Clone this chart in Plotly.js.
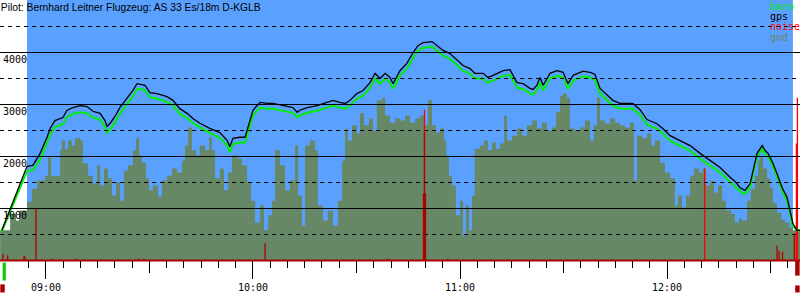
<!DOCTYPE html>
<html><head><meta charset="utf-8">
<script src="https://cdn.plot.ly/plotly-3.0.1.min.js"></script>
<style>html,body{margin:0;padding:0;background:#fff}#chart{width:800px;height:300px}</style>
</head><body><div id="chart"></div>
<script>
// time in minutes after midnight, altitude in metres
const chartTitle = 'Pilot: Bernhard Leitner Flugzeug: AS 33 Es/18m D-KGLB';
const hourTicks = [540, 600, 660, 720];
const hourLabels = ['09:00', '10:00', '11:00', '12:00'];
const halfHourTicks = [570, 630, 690, 750];
const altMajor = [1000, 2000, 3000, 4000];
const altMajorLabels = ['1000', '2000', '3000', '4000'];
const altMinor = [500, 1500, 2500, 3500, 4500];
const timeRange = [526.67, 758.55];
const altRange = [-759.6, 5009.6];
const skyTop = 5009.6;
const flightStart = 534.5, flightEnd = 756.5;

const gpsT = [527.2, 534.5, 536.2, 538.3, 540.3, 541.2, 542.6, 544.9, 546.1, 547.8,
  549.9, 551.9, 553.6, 555.7, 557.1, 557.7, 558.6, 560.0, 561.4, 563.5,
  565.2, 566.4, 567.2, 568.7, 570.1, 572.2, 575.1, 576.8, 578.8, 580.9,
  582.6, 584.6, 587.5, 590.4, 592.5, 593.3, 594.2, 596.2, 597.7, 598.3,
  599.1, 600.0, 602.0, 604.1, 605.8, 608.7, 611.6, 612.8, 613.6, 615.7,
  618.6, 621.4, 623.2, 625.2, 626.7, 628.1, 630.1, 631.9, 633.9, 635.4,
  636.8, 638.3, 639.7, 640.6, 642.6, 644.6, 646.4, 647.8, 649.3, 651.9,
  653.3, 655.1, 657.1, 659.1, 660.9, 662.9, 664.3, 666.7, 668.1, 669.6,
  672.5, 674.5, 676.5, 678.3, 680.3, 681.2, 682.3, 683.2, 684.1, 686.1,
  688.1, 689.9, 691.3, 692.8, 695.7, 697.7, 699.1, 700.6, 702.6, 704.3,
  706.4, 710.1, 712.2, 714.2, 717.1, 718.8, 720.9, 723.8, 726.7, 729.6,
  732.5, 735.4, 738.3, 739.7, 741.2, 742.6, 744.1, 744.9, 746.1, 747.6,
  748.4, 749.3, 750.7, 751.9, 753.4, 754.8, 755.7, 756.5, 757.7, 758.6];
const gpsAlt = [580, 1810, 1830, 2060, 2370, 2540, 2690, 2750, 2890, 2940,
  2980, 2960, 2870, 2830, 2690, 2580, 2640, 2770, 2940, 3120,
  3270, 3400, 3390, 3370, 3230, 3210, 3150, 3080, 2920, 2830,
  2730, 2640, 2540, 2460, 2310, 2190, 2350, 2370, 2370, 2500,
  2690, 2890, 3040, 3020, 3020, 2980, 2940, 2850, 2890, 2940,
  2980, 3040, 3080, 3040, 3020, 3080, 3210, 3270, 3420, 3600,
  3500, 3600, 3520, 3400, 3650, 3790, 4000, 4130, 4190, 4210,
  4130, 4040, 3980, 3850, 3750, 3690, 3600, 3600, 3520, 3560,
  3650, 3670, 3420, 3400, 3310, 3290, 3370, 3520, 3370, 3600,
  3650, 3620, 3400, 3560, 3640, 3620, 3580, 3310, 3190, 3080,
  3020, 3020, 2900, 2710, 2630, 2540, 2400, 2310, 2210, 2060,
  1920, 1790, 1600, 1520, 1400, 1350, 1480, 1730, 2060, 2210,
  2120, 2060, 1870, 1670, 1400, 1210, 920, 710, 580, 580];
const baroAlt = [560, 1720, 1740, 1940, 2260, 2420, 2570, 2620, 2760, 2820,
  2850, 2830, 2750, 2710, 2570, 2460, 2520, 2650, 2820, 3000,
  3160, 3300, 3300, 3270, 3140, 3110, 3050, 2980, 2820, 2740,
  2640, 2560, 2450, 2360, 2210, 2090, 2240, 2270, 2270, 2400,
  2590, 2790, 2940, 2920, 2920, 2880, 2840, 2750, 2790, 2840,
  2880, 2940, 2980, 2940, 2920, 2980, 3110, 3170, 3320, 3500,
  3400, 3500, 3420, 3300, 3550, 3690, 3900, 4030, 4090, 4110,
  4030, 3940, 3880, 3750, 3650, 3590, 3500, 3500, 3420, 3460,
  3550, 3570, 3320, 3300, 3210, 3190, 3270, 3420, 3270, 3500,
  3550, 3520, 3300, 3460, 3540, 3520, 3480, 3210, 3090, 2980,
  2920, 2920, 2800, 2610, 2530, 2440, 2300, 2210, 2110, 1960,
  1820, 1690, 1510, 1430, 1330, 1280, 1410, 1660, 1990, 2150,
  2060, 2000, 1810, 1610, 1340, 1150, 860, 660, 580, 580];

const gndT = [526.7, 529.6, 531.3, 532.2, 534.5, 535.9, 537.4, 539.7, 540.6, 541.5,
  542.6, 544.1, 544.6, 545.5, 546.4, 547.5, 548.4, 549.9, 550.7, 552.2,
  553.6, 554.8, 555.7, 556.8, 558.0, 559.1, 560.3, 561.5, 562.6, 563.8,
  565.2, 566.1, 567.0, 567.8, 569.0, 569.9, 571.0, 572.5, 573.6, 575.1,
  576.5, 578.0, 579.4, 580.3, 581.2, 582.3, 583.5, 584.6, 586.1, 587.3,
  588.1, 589.0, 590.4, 591.6, 592.8, 593.9, 595.4, 596.8, 598.3, 599.4,
  600.6, 602.0, 603.2, 604.4, 605.5, 606.4, 607.8, 609.3, 610.7, 612.2,
  613.1, 614.2, 615.1, 616.5, 618.0, 618.8, 620.3, 621.7, 623.2, 624.6,
  625.8, 626.7, 627.5, 628.7, 630.1, 631.0, 632.2, 633.6, 634.8, 635.9,
  637.4, 638.3, 639.7, 641.2, 642.6, 644.1, 645.5, 647.0, 648.4, 649.6,
  650.7, 651.9, 653.0, 654.2, 655.4, 656.0, 656.8, 657.7, 658.8, 660.0,
  660.9, 661.7, 662.6, 663.5, 664.3, 665.8, 667.0, 668.1, 669.3, 670.4,
  671.6, 672.8, 673.6, 675.1, 676.5, 678.0, 679.4, 680.9, 682.3, 683.8,
  685.2, 686.7, 687.8, 689.0, 689.9, 691.0, 691.9, 693.3, 694.8, 696.2,
  697.7, 698.8, 699.7, 700.6, 702.0, 703.5, 704.9, 706.4, 707.8, 709.3,
  710.4, 711.3, 712.8, 714.2, 715.4, 716.5, 718.0, 719.4, 720.9, 722.3,
  723.2, 724.3, 725.5, 726.7, 727.8, 729.3, 730.4, 731.3, 732.5, 733.6,
  734.8, 736.0, 737.1, 738.6, 739.7, 740.9, 741.7, 743.2, 744.3, 745.5,
  746.4, 747.0, 747.8, 749.0, 749.9, 750.7, 751.9, 753.1, 754.2, 755.4,
  756.5, 758.6];
const gndAlt = [580, 900, 770, 960, 1130, 1380, 1540, 1630, 1980, 1620,
  1630, 2120, 2310, 2150, 2310, 2210, 2350, 2310, 1870, 1630,
  1480, 1830, 1440, 1770, 1580, 1250, 1500, 1150, 1730, 1830,
  2120, 2350, 2020, 1880, 1580, 1350, 1440, 1230, 1540, 1630,
  1770, 1690, 1920, 2210, 2560, 2120, 2020, 2210, 2120, 2370,
  2120, 1580, 1770, 1350, 1690, 2020, 1960, 1830, 1500, 1150,
  730, 1060, 580, 870, 1150, 2120, 1830, 1350, 1540, 2210,
  1250, 670, 2210, 2310, 2120, 1060, 770, 960, 670, 1150,
  1920, 2540, 2310, 2600, 2440, 2830, 2600, 2730, 2500, 3080,
  3130, 2790, 2650, 2730, 2690, 2790, 2650, 2730, 2790, 2600,
  3080, 2600, 2460, 2540, 2310, 2020, 1630, 1440, 870, 1150,
  480, 1060, 580, 1250, 2150, 2210, 2310, 2120, 2270, 2150,
  2250, 2790, 2310, 2400, 2540, 2400, 2600, 2690, 2540, 2650,
  2500, 2560, 2850, 3170, 3210, 3130, 2540, 2500, 2560, 2690,
  2310, 2600, 3130, 2690, 2630, 2730, 2650, 2600, 2560, 2650,
  1540, 2400, 2350, 2440, 2210, 2310, 1880, 1690, 1580, 1060,
  1250, 1020, 1250, 1630, 1770, 1690, 1770, 1440, 1540, 1310,
  1440, 1150, 960, 900, 730, 810, 770, 1150, 1380, 1630,
  1920, 1980, 1770, 1580, 1400, 1100, 920, 790, 730, 630,
  580, 580];

const noiseT = [527.5, 528.9, 533.6, 533.9, 537.1, 541.7, 548.7, 567.0, 568.4, 603.5,
  639.1, 649.4, 649.7, 650.0, 656.5, 751.9, 752.5, 753.5, 756.9];
const noiseAlt = [130, 100, 80, 80, 1000, 40, 40, 40, 40, 330,
  40, 1290, 2460, 1290, 40, 290, 190, 170, 520];
const noisePeakT = [649.7, 730.9, 757.5, 757.8];
const noisePeakAlt = [2900, 1770, 2250, 3130];

const engineT = [527.4, 757.8, 757.8];
const engineLow = [-615, -290, -615];
const engineHigh = [-460, 0, -480];
const launchT = [527.9];
const launchLow = [-385];
const launchHigh = [-40];

const legendNames = ['baro', 'gps', 'noise', 'gnd'];
const legendColors = ['#00ee00', '#000000', '#ff0000', '#668866'];

// build vertical stick segments from the noise arrays
function sticks(ts, vs) {
  const x = [], y = [];
  ts.forEach((t, i) => { x.push(t, t, null); y.push(0, vs[i], null); });
  return {x, y};
}
const peakSticks = sticks(noisePeakT, noisePeakAlt);
const noiseSticks = sticks(noiseT, noiseAlt);

const traces = [
  {x: gndT, y: gndAlt, type: 'scatter', mode: 'lines', line: {shape: 'hv', width: 0, color: '#668866'},
   fill: 'tozeroy', fillcolor: '#668866', hoverinfo: 'skip'},
  {x: peakSticks.x, y: peakSticks.y, type: 'scatter', mode: 'lines', connectgaps: false,
   line: {color: '#ff0000', width: 1.3}},
  {x: noiseSticks.x, y: noiseSticks.y, type: 'scatter', mode: 'lines', connectgaps: false,
   line: {color: '#b00000', width: 1.3}},
  {x: engineT, y: engineHigh.map((h, i) => h - engineLow[i]), base: engineLow, type: 'bar', width: 1.3,
   marker: {color: '#aa0000', line: {width: 0}}},
  {x: launchT, y: launchHigh.map((h, i) => h - launchLow[i]), base: launchLow, type: 'bar', width: 0.9,
   marker: {color: '#00cc00', line: {width: 0}}},
  {x: gpsT, y: baroAlt, type: 'scatter', mode: 'lines', line: {color: '#00ee00', width: 2}},
  {x: gpsT, y: gpsAlt, type: 'scatter', mode: 'lines', line: {color: '#000000', width: 1.3}},
  {x: [], y: [], type: 'scatter', xaxis: 'x2'}
];

const shapes = [
  {type: 'rect', xref: 'x', yref: 'y', x0: flightStart, x1: flightEnd, y0: 0, y1: skyTop,
   fillcolor: '#5aa0ff', line: {width: 0}, layer: 'below'}
];
altMajor.forEach(v => shapes.push({type: 'line', xref: 'paper', yref: 'y', x0: 0, x1: 1, y0: v, y1: v,
  line: {color: '#000', width: 1}, layer: 'above'}));
altMinor.forEach(v => shapes.push({type: 'line', xref: 'paper', yref: 'y', x0: 0, x1: 1, y0: v, y1: v,
  line: {color: '#000', width: 1, dash: '4px,4px'}, layer: 'above'}));
shapes.push({type: 'line', xref: 'paper', yref: 'y', x0: 0, x1: 1, y0: 0, y1: 0,
  line: {color: '#aa0000', width: 2}, layer: 'above'});

const monoFont = {family: 'DejaVu Sans Mono, monospace', size: 10, color: '#000'};
const annotations = legendNames.map((n, i) => ({
  text: n, xref: 'paper', yref: 'paper', x: 768 / 800, y: 1 - (6 + i * 10.5) / 300,
  xanchor: 'left', yanchor: 'middle', showarrow: false,
  font: {family: 'DejaVu Sans Mono, monospace', size: 10, color: legendColors[i]}
}));

const layout = {
  width: 800, height: 300,
  margin: {l: 0, r: 0, t: 0, b: 0},
  paper_bgcolor: '#fff', plot_bgcolor: '#fff',
  showlegend: false, barmode: 'overlay', hovermode: false,
  title: {text: chartTitle, x: 0.001, xref: 'paper', xanchor: 'left', y: 1 - 7 / 300, yref: 'container',
    yanchor: 'middle', pad: {l: 0, r: 0, t: 0, b: 0},
    font: {family: 'Liberation Sans, Arial, sans-serif', size: 10.3, color: '#000'}},
  xaxis: {range: timeRange, anchor: 'free', position: 40 / 300, showgrid: false, zeroline: false,
    showline: false, automargin: false, layer: 'above traces',
    tickmode: 'array', tickvals: hourTicks, ticktext: hourLabels,
    ticks: 'outside', ticklen: 18, tickwidth: 1, tickcolor: '#000', tickfont: monoFont,
    minor: {tickmode: 'linear', tick0: 0, dtick: 5, ticks: 'outside', ticklen: 7, tickwidth: 1, tickcolor: '#000', showgrid: false}},
  xaxis2: {range: timeRange, overlaying: 'x', anchor: 'free', position: 40 / 300, showgrid: false,
    zeroline: false, showline: false, automargin: false, layer: 'above traces',
    tickmode: 'array', tickvals: halfHourTicks, ticks: 'outside', ticklen: 12, tickwidth: 1,
    tickcolor: '#000', showticklabels: false},
  yaxis: {range: altRange, domain: [0, 1], showgrid: false, zeroline: false, showline: false,
    automargin: false, ticks: '', tickmode: 'array', tickvals: altMajor, ticktext: altMajorLabels,
    ticklabelposition: 'inside bottom', tickfont: monoFont, layer: 'above traces'},
  shapes: shapes,
  annotations: annotations
};

Plotly.newPlot('chart', traces, layout, {staticPlot: true, displayModeBar: false});
</script>
</body></html>
